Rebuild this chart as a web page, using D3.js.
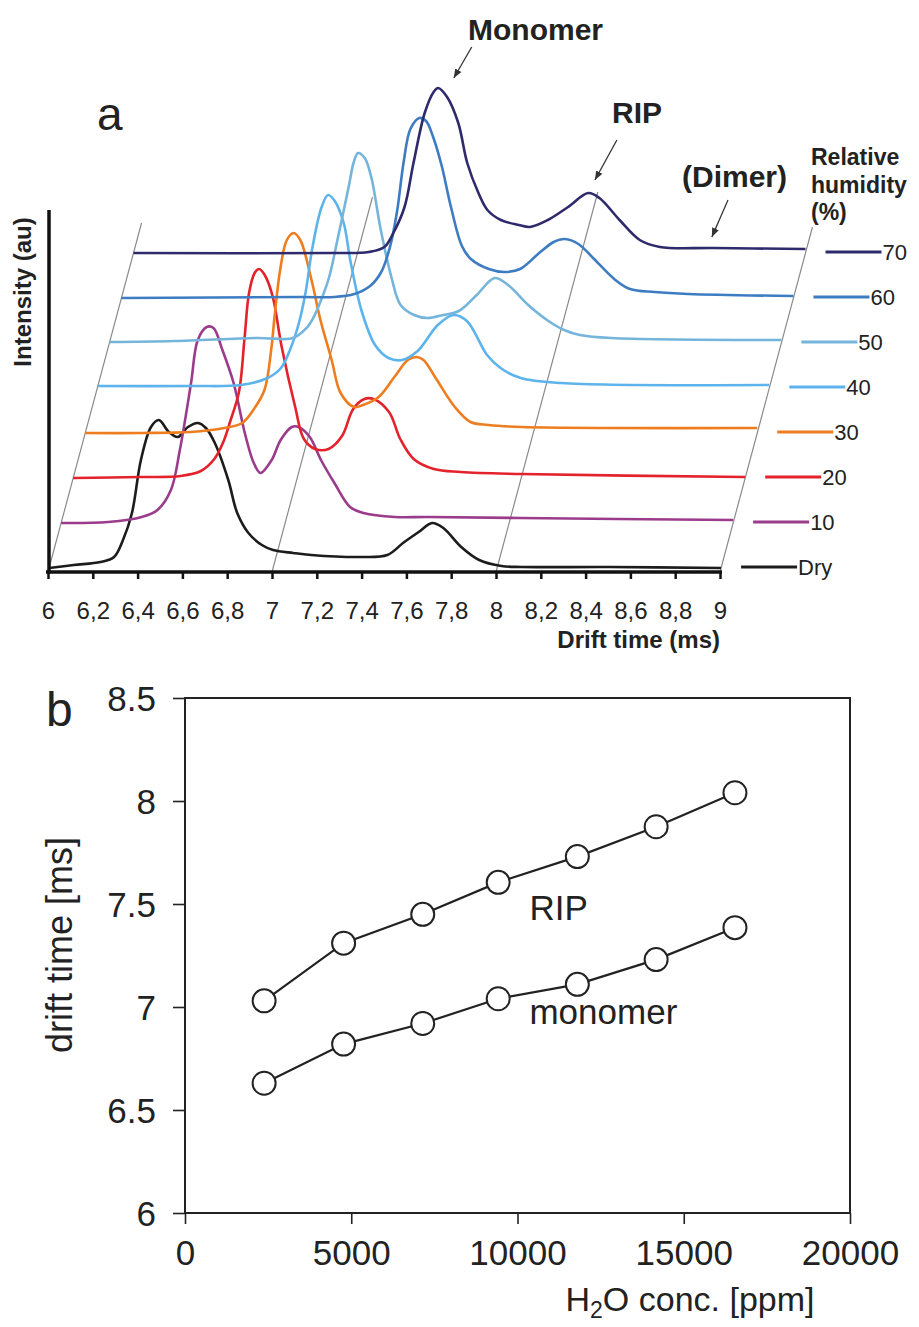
<!DOCTYPE html>
<html><head><meta charset="utf-8">
<script src="https://cdn.jsdelivr.net/npm/d3@7"></script>
<style>
body{margin:0;background:#fff}
svg{display:block}
text{font-family:"Liberation Sans",Arial,Helvetica,sans-serif;fill:#222}
</style>
</head><body>
<svg id="c" width="919" height="1327"></svg>
<script>
// ---------------- DATA ----------------
const driftTicks = [6, 6.2, 6.4, 6.6, 6.8, 7, 7.2, 7.4, 7.6, 7.8, 8, 8.2, 8.4, 8.6, 8.8, 9];
const humidityLabels = ["Dry", "10", "20", "30", "40", "50", "60", "70"];

// drift time (ms), intensity (au)
const traceDry = [[6.00,0],[6.11,3],[6.23,6],[6.29,11],[6.33,28],[6.37,55],[6.41,108],[6.455,141],[6.49,148],[6.535,136],[6.575,131],[6.62,141],[6.665,145],[6.70,140],[6.74,125],[6.80,88],[6.84,55],[6.89,35],[6.95,23],[7.0,18],[7.09,15],[7.17,13],[7.39,11],[7.51,13],[7.58,25],[7.65,36],[7.71,45],[7.76,40],[7.84,21],[7.92,8],[8.02,2],[8.11,1],[8.5,1],[9.0,0]];
const trace10 = [[6.0,0],[6.21,1],[6.36,6],[6.43,13],[6.49,33],[6.53,73],[6.58,140],[6.61,183],[6.65,196],[6.68,195],[6.72,173],[6.77,140],[6.82,90],[6.86,60],[6.89,50],[6.94,63],[6.98,83],[7.03,96],[7.06,96],[7.11,86],[7.16,63],[7.22,40],[7.29,16],[7.35,10],[7.49,6],[7.64,6],[8.05,5],[9.0,3]];
const trace20 = [[6.0,0],[6.30,1],[6.48,2],[6.57,7],[6.63,19],[6.67,36],[6.70,56],[6.74,86],[6.765,140],[6.785,185],[6.81,205],[6.83,209],[6.855,203],[6.89,182],[6.93,132],[6.99,72],[7.03,39],[7.08,29],[7.14,29],[7.20,42],[7.25,69],[7.30,79],[7.34,79],[7.41,66],[7.46,39],[7.52,19],[7.61,9],[7.73,6],[8.0,4],[9.0,1]];
const trace30 = [[6.0,0],[6.25,0],[6.47,1],[6.62,5],[6.70,10],[6.75,23],[6.80,43],[6.83,83],[6.845,116],[6.87,163],[6.90,193],[6.93,200],[6.96,193],[7.01,153],[7.05,113],[7.10,73],[7.14,40],[7.20,26],[7.24,28],[7.31,36],[7.38,56],[7.44,73],[7.48,76],[7.51,73],[7.57,53],[7.65,26],[7.72,11],[7.80,8],[7.95,6],[9.0,5]];
const trace40 = [[6.0,2],[6.42,2],[6.64,3],[6.76,10],[6.82,20],[6.86,38],[6.90,65],[6.93,96],[6.96,140],[7.0,180],[7.03,193],[7.06,187],[7.10,165],[7.13,127],[7.18,77],[7.24,43],[7.30,30],[7.36,28],[7.43,37],[7.52,63],[7.59,73],[7.65,67],[7.74,33],[7.80,20],[7.89,10],[8.07,5],[9.0,3]];
const trace50 = [[6.0,1],[6.29,2],[6.66,5],[6.82,5],[6.88,15],[6.91,25],[6.94,40],[6.98,65],[7.02,105],[7.07,158],[7.09,180],[7.11,190],[7.14,185],[7.17,165],[7.21,115],[7.26,65],[7.30,38],[7.36,28],[7.42,25],[7.49,28],[7.56,32],[7.64,48],[7.72,65],[7.78,58],[7.87,38],[7.96,22],[8.03,13],[8.10,8],[8.24,5],[9.0,3]];
const trace60 = [[6.0,0],[6.80,1],[6.95,1],[7.04,4],[7.11,12],[7.16,26],[7.20,52],[7.23,86],[7.26,136],[7.29,169],[7.33,180],[7.36,177],[7.39,162],[7.43,132],[7.47,92],[7.52,52],[7.56,39],[7.64,29],[7.71,26],[7.78,29],[7.87,46],[7.93,56],[7.98,59],[8.04,54],[8.11,39],[8.20,19],[8.27,9],[8.38,6],[8.53,4],[9.0,2]];
const trace70 = [[6.0,0],[6.89,0],[7.05,1],[7.12,6],[7.16,20],[7.21,46],[7.25,90],[7.30,140],[7.34,161],[7.36,165],[7.40,156],[7.45,130],[7.49,90],[7.54,60],[7.58,43],[7.64,33],[7.72,28],[7.77,26],[7.85,33],[7.94,46],[8.03,60],[8.08,55],[8.17,33],[8.26,13],[8.35,6],[8.59,5],[9.0,4]];

// panel b
const h2oConc = [2380, 4770, 7150, 9420, 11800, 14170, 16540];
const ripTime = [7.03, 7.31, 7.45, 7.605, 7.73, 7.875, 8.04];
const monomerTime = [6.63, 6.82, 6.92, 7.04, 7.11, 7.23, 7.385];
const bTicksX = [0, 5000, 10000, 15000, 20000];
const bTicksY = [6, 6.5, 7, 7.5, 8, 8.5];

// ---------------- STYLE ----------------
const traceColors = ["#1c1c1c", "#9b3b8c", "#e3222b", "#ee7d1f", "#5db4ec", "#75b5dc", "#3e7cc2", "#2f2a6c"];
const traces = [traceDry, trace10, trace20, trace30, trace40, trace50, trace60, trace70];

const svg = d3.select("#c");
const defs = svg.append("defs");
defs.append("marker").attr("id","arr").attr("viewBox","0 0 10 10")
  .attr("refX",10).attr("refY",5).attr("markerWidth",9).attr("markerHeight",9)
  .attr("markerUnits","userSpaceOnUse").attr("orient","auto")
  .append("path").attr("d","M0,1 L10,5 L0,9 z").attr("fill","#333");

// ---------------- PANEL A ----------------
const xA = d3.scaleLinear().domain([6, 9]).range([48, 720]);
const hA = d3.scaleLinear().domain([0, 250]).range([0, 250]);
const axisYA = 572, skew = 0.268, depth0 = 4, depthStep = 45;
const depthOf = k => depth0 + k * depthStep;
const proj = (t, depth, h) => [xA(t) + depth * skew, axisYA - depth - hA(h)];

// oblique guide lines
const guideTimes = [6, 7, 8, 9];
const guideDepth = [349, 375, 380, 345];
svg.append("g").selectAll("line").data(guideTimes).join("line")
  .attr("x1", d => proj(d, 0, 0)[0]).attr("y1", d => proj(d, 0, 0)[1])
  .attr("x2", (d,i) => proj(d, guideDepth[i], 0)[0]).attr("y2", (d,i) => proj(d, guideDepth[i], 0)[1])
  .attr("stroke", "#8a8a8a").attr("stroke-width", 1.2);

// traces
const gT = svg.append("g");
traces.forEach((tr, k) => {
  const line = d3.line()
    .x(d => proj(d[0], depthOf(k), d[1])[0])
    .y(d => proj(d[0], depthOf(k), d[1])[1])
    .curve(d3.curveCatmullRom.alpha(0.5));
  gT.append("path").datum(tr).attr("d", line)
    .attr("fill", "none").attr("stroke", traceColors[k]).attr("stroke-width", 2.6)
    .attr("stroke-linejoin", "round");
});

// axes
const axA = d3.axisBottom(xA).tickValues(driftTicks).tickSize(7).tickSizeOuter(0)
  .tickFormat(d => String(+d.toFixed(1)).replace(".", ","));
const gA = svg.append("g").attr("transform", `translate(0,${axisYA})`).call(axA);
gA.select(".domain").attr("stroke", "#111").attr("stroke-width", 3.5).attr("d", "M46,0H722");
gA.selectAll(".tick line").attr("stroke", "#111").attr("stroke-width", 2.5);
gA.selectAll(".tick text").attr("y", 47).attr("dy", null)
  .attr("font-size", 24).attr("font-family", "Liberation Sans, Arial, sans-serif").attr("fill", "#333");
gA.attr("font-size", null).attr("font-family", null);
svg.append("line").attr("x1", 49).attr("x2", 49).attr("y1", 210).attr("y2", axisYA + 1.5)
  .attr("stroke", "#111").attr("stroke-width", 3.5);

svg.append("text").attr("x", 720).attr("y", 648).attr("text-anchor", "end")
  .attr("font-size", 24).attr("font-weight", "bold").text("Drift time (ms)");
svg.append("text").attr("transform", "translate(31,292) rotate(-90)").attr("text-anchor", "middle")
  .attr("font-size", 24).attr("font-weight", "bold").text("Intensity (au)");
svg.append("text").attr("x", 97).attr("y", 130).attr("font-size", 46).text("a");

// annotations (on the 70 % trace plane)
const d70 = depthOf(7);
const arrows = [
  {from: [7.51, 206], to: [7.43, 175]},
  {from: [8.158, 113], to: [8.06, 73]},
  {from: [8.654, 53], to: [8.582, 16]}
];
svg.append("g").selectAll("line").data(arrows).join("line")
  .attr("x1", d => proj(d.from[0], d70, d.from[1])[0]).attr("y1", d => proj(d.from[0], d70, d.from[1])[1])
  .attr("x2", d => proj(d.to[0], d70, d.to[1])[0]).attr("y2", d => proj(d.to[0], d70, d.to[1])[1])
  .attr("stroke", "#333").attr("stroke-width", 1.3).attr("marker-end", "url(#arr)");
svg.append("text").attr("x", 468).attr("y", 40).attr("font-size", 30).attr("font-weight", "bold").text("Monomer");
svg.append("text").attr("x", 612).attr("y", 123).attr("font-size", 30).attr("font-weight", "bold").text("RIP");
svg.append("text").attr("x", 682).attr("y", 187).attr("font-size", 30).attr("font-weight", "bold").text("(Dimer)");
["Relative", "humidity", "(%)"].forEach((s, i) => {
  svg.append("text").attr("x", 811).attr("y", 165 + i * 27.5).attr("font-size", 23).attr("font-weight", "bold").text(s);
});

// legend
const gL = svg.append("g");
humidityLabels.forEach((lab, k) => {
  const p = proj(9, depthOf(k), 0);
  const x0 = p[0] + 20, y0 = p[1] - 1;
  gL.append("line").attr("x1", x0).attr("x2", x0 + 56).attr("y1", y0).attr("y2", y0)
    .attr("stroke", traceColors[k]).attr("stroke-width", 3);
  gL.append("text").attr("x", x0 + 57).attr("y", y0).attr("dy", "0.36em")
    .attr("font-size", 22).attr("fill", "#333").text(lab);
});

// ---------------- PANEL B ----------------
const xB = d3.scaleLinear().domain([0, 20000]).range([185, 850]);
const yB = d3.scaleLinear().domain([6, 8.5]).range([1213, 698]);

svg.append("rect").attr("x", xB(0)).attr("y", yB(8.5)).attr("width", xB(20000) - xB(0)).attr("height", yB(6) - yB(8.5))
  .attr("fill", "none").attr("stroke", "#222").attr("stroke-width", 2);

const axBx = d3.axisBottom(xB).tickValues(bTicksX).tickSize(11).tickSizeOuter(0).tickFormat(d3.format("d"));
const gBx = svg.append("g").attr("transform", `translate(0,${yB(6)})`).call(axBx);
gBx.select(".domain").remove();
gBx.selectAll(".tick line").attr("stroke", "#222").attr("stroke-width", 1.6);
gBx.selectAll(".tick text").attr("y", 52).attr("dy", null).attr("font-size", 35)
  .attr("font-family", "Liberation Sans, Arial, sans-serif").attr("fill", "#222");

const axBy = d3.axisLeft(yB).tickValues(bTicksY).tickSize(12).tickSizeOuter(0).tickFormat(d => String(d));
const gBy = svg.append("g").attr("transform", `translate(${xB(0)},0)`).call(axBy);
gBy.select(".domain").remove();
gBy.selectAll(".tick line").attr("stroke", "#222").attr("stroke-width", 1.6);
gBy.selectAll(".tick text").attr("x", -29).attr("dy", "0.36em").attr("font-size", 35)
  .attr("font-family", "Liberation Sans, Arial, sans-serif").attr("fill", "#222");

const series = [ripTime, monomerTime];
const lineB = d3.line().x((d, i) => xB(h2oConc[i])).y(d => yB(d));
series.forEach(s => {
  svg.append("path").datum(s).attr("d", lineB).attr("fill", "none").attr("stroke", "#222").attr("stroke-width", 2.2);
  svg.append("g").selectAll("circle").data(s).join("circle")
    .attr("cx", (d, i) => xB(h2oConc[i])).attr("cy", d => yB(d)).attr("r", 11.5)
    .attr("fill", "#fff").attr("stroke", "#222").attr("stroke-width", 2);
});

svg.append("text").attr("x", xB(10360)).attr("y", 920).attr("font-size", 35).text("RIP");
svg.append("text").attr("x", xB(10360)).attr("y", 1024).attr("font-size", 35).text("monomer");

svg.append("text").attr("transform", "translate(72,945) rotate(-90)").attr("text-anchor", "middle")
  .attr("font-size", 36).text("drift time [ms]");
const xl = svg.append("text").attr("x", 690).attr("y", 1311).attr("text-anchor", "middle").attr("font-size", 34);
xl.append("tspan").text("H");
xl.append("tspan").attr("font-size", 23).attr("dy", 7).text("2");
xl.append("tspan").attr("dy", -7).text("O conc. [ppm]");

svg.append("text").attr("x", 46).attr("y", 726).attr("font-size", 48).text("b");
</script>
</body></html>
